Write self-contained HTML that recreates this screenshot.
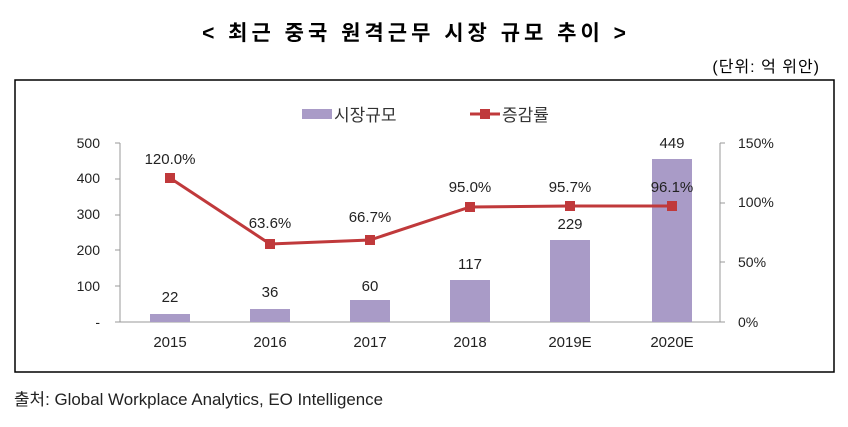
<!DOCTYPE html><html><head><meta charset="utf-8"><style>
body{margin:0;background:#fff;width:848px;height:422px;overflow:hidden;font-family:"Liberation Sans","Noto Sans CJK KR",sans-serif}
</style></head><body>
<svg width="848" height="422" xmlns="http://www.w3.org/2000/svg" font-family="Liberation Sans, Noto Sans CJK KR, sans-serif">
<text x="416" y="40" text-anchor="middle" font-size="21" font-weight="bold" letter-spacing="4">&lt; 최근 중국 원격근무 시장 규모 추이 &gt;</text>
<text x="820" y="72" text-anchor="end" font-size="16" letter-spacing="1">(단위: 억 위안)</text>
<rect x="15" y="80" width="819" height="292" fill="none" stroke="#000" stroke-width="1.5"/>
<rect x="302" y="109" width="30" height="10" fill="#a99bc7"/>
<text x="334" y="121" font-size="17" fill="#333">시장규모</text>
<line x1="470" y1="114" x2="500" y2="114" stroke="#c0393b" stroke-width="3"/>
<rect x="480" y="109" width="10" height="10" fill="#c0393b"/>
<text x="502" y="121" font-size="17" fill="#333">증감률</text>
<g font-size="14" fill="#222">
<text x="100" y="148" text-anchor="end">500</text>
<text x="100" y="183" text-anchor="end">400</text>
<text x="100" y="219" text-anchor="end">300</text>
<text x="100" y="255" text-anchor="end">200</text>
<text x="100" y="291" text-anchor="end">100</text>
<text x="100" y="327" text-anchor="end">-</text>
<text x="738" y="148">150%</text>
<text x="738" y="207">100%</text>
<text x="738" y="267">50%</text>
<text x="738" y="327">0%</text>
</g>
<g stroke="#999" stroke-width="1">
<line x1="120" y1="143" x2="120" y2="322"/>
<line x1="720" y1="143" x2="720" y2="322"/>
<line x1="120" y1="322" x2="720" y2="322"/>
<line x1="115" y1="143" x2="120" y2="143"/><line x1="115" y1="179" x2="120" y2="179"/><line x1="115" y1="215" x2="120" y2="215"/><line x1="115" y1="250" x2="120" y2="250"/><line x1="115" y1="286" x2="120" y2="286"/><line x1="115" y1="322" x2="120" y2="322"/>
<line x1="720" y1="143" x2="725" y2="143"/><line x1="720" y1="203" x2="725" y2="203"/><line x1="720" y1="262" x2="725" y2="262"/><line x1="720" y1="322" x2="725" y2="322"/>
</g>
<g fill="#a99bc7">
<rect x="150" y="314" width="40" height="8"/>
<rect x="250" y="309" width="40" height="13"/>
<rect x="350" y="300" width="40" height="22"/>
<rect x="450" y="280" width="40" height="42"/>
<rect x="550" y="240" width="40" height="82"/>
<rect x="652" y="159" width="40" height="163"/>
</g>
<g font-size="15" fill="#222" text-anchor="middle">
<text x="170" y="302">22</text><text x="270" y="297">36</text><text x="370" y="291">60</text>
<text x="470" y="269">117</text><text x="570" y="229">229</text><text x="672" y="148">449</text>
<text x="170" y="164">120.0%</text><text x="270" y="228">63.6%</text><text x="370" y="222">66.7%</text>
<text x="470" y="192">95.0%</text><text x="570" y="192">95.7%</text><text x="672" y="192">96.1%</text>
<text x="170" y="347">2015</text><text x="270" y="347">2016</text><text x="370" y="347">2017</text>
<text x="470" y="347">2018</text><text x="570" y="347">2019E</text><text x="672" y="347">2020E</text>
</g>
<polyline points="170,178 270,244 370,240 470,207 570,206 672,206" fill="none" stroke="#c0393b" stroke-width="3"/>
<g fill="#c0393b">
<rect x="165" y="173" width="10" height="10"/><rect x="265" y="239" width="10" height="10"/><rect x="365" y="235" width="10" height="10"/>
<rect x="465" y="202" width="10" height="10"/><rect x="565" y="201" width="10" height="10"/><rect x="667" y="201" width="10" height="10"/>
</g>
<text x="14" y="405" font-size="16.5" fill="#222" textLength="369" lengthAdjust="spacingAndGlyphs">출처: Global Workplace Analytics, EO Intelligence</text>
</svg>
</body></html>
